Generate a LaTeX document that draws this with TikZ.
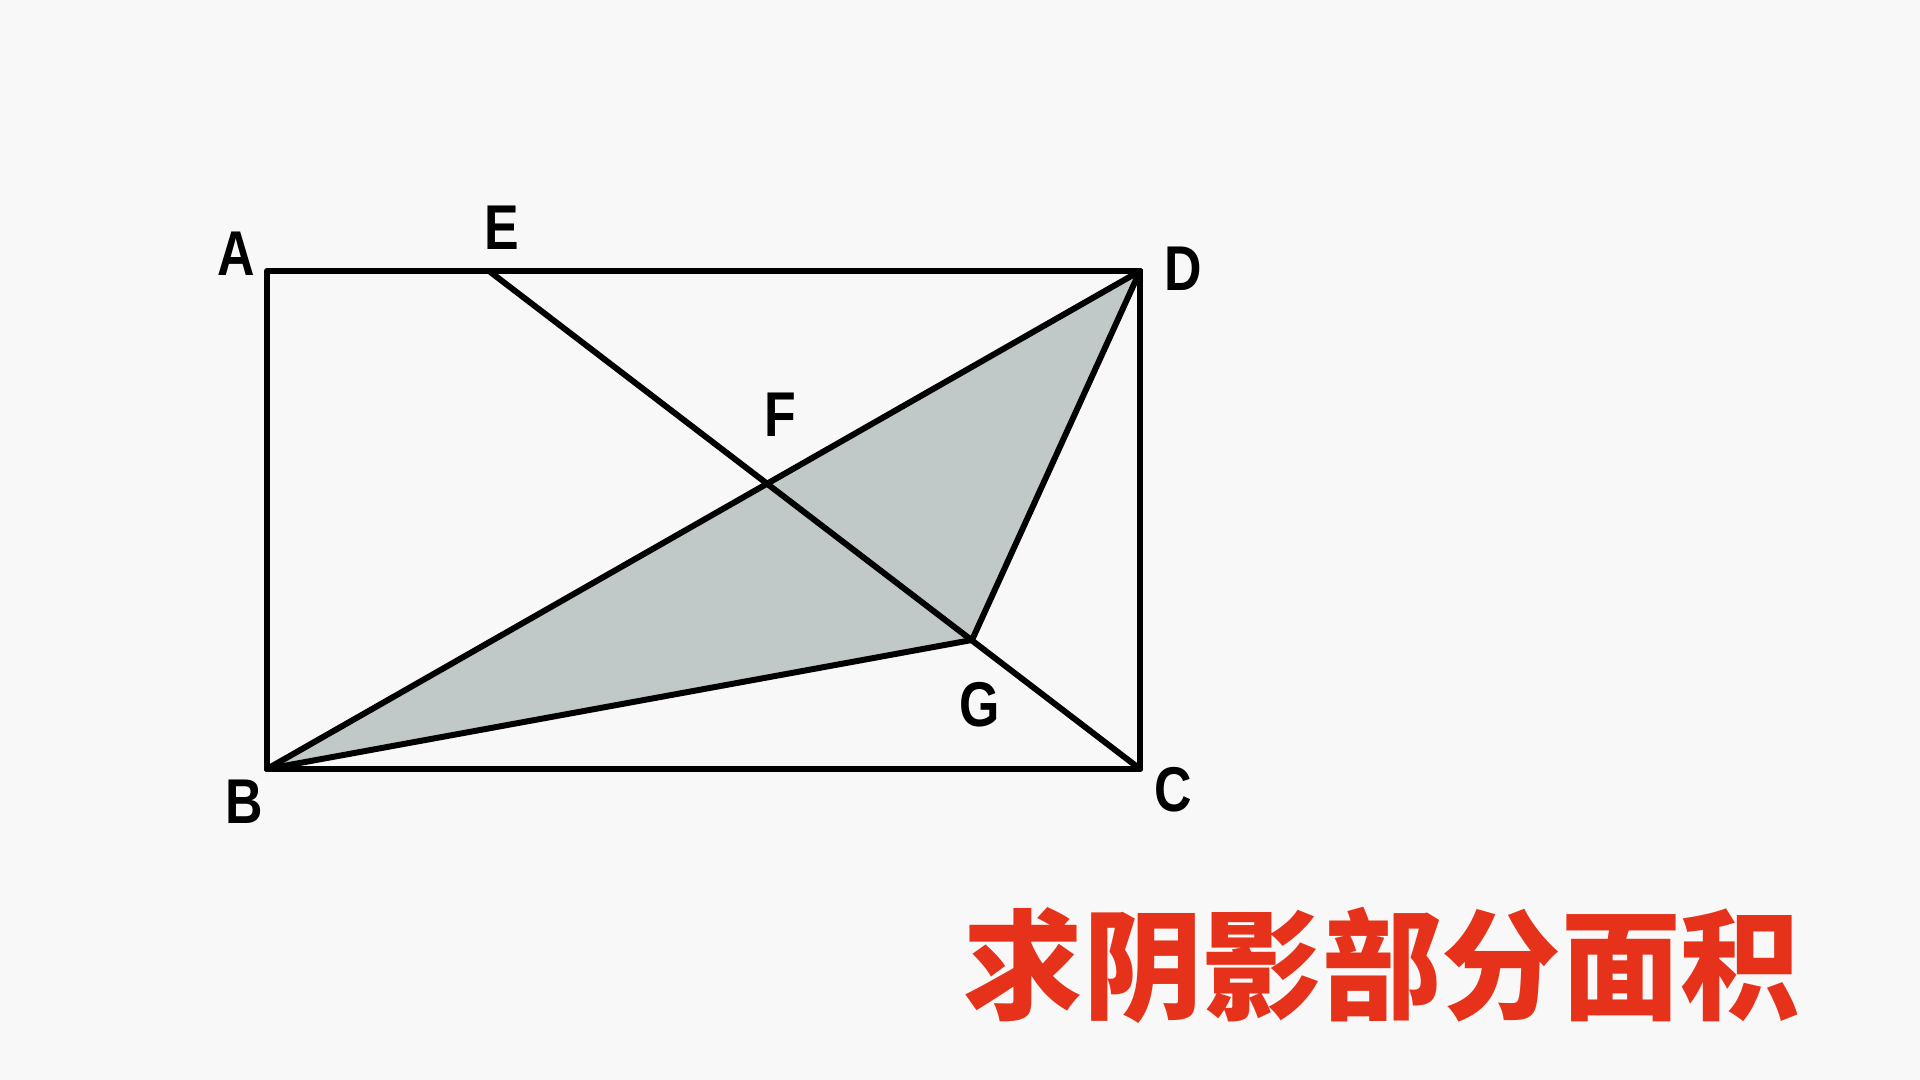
\documentclass[tikz,border=0pt]{standalone}
\usepackage{fontspec, tkz-euclide, tikz, xcolor}
\setmainfont{Liberation Sans}
\newfontfamily\cjk{Noto Sans CJK SC}
\definecolor{bgcol}{RGB}{247,248,247}
\definecolor{shadecol}{RGB}{192,201,199}
\definecolor{titlered}{RGB}{230,50,26}
\tikzset{ptlabel/.style = {font=\fontsize{18}{18}\selectfont\bfseries, xscale=0.82, inner sep=0pt}}

\begin{document}
\begin{tikzpicture}
    \fill[bgcol] (0,0) rectangle (19.2,10.8);
    \useasboundingbox (0,0) rectangle (19.2,10.8);
    \tkzDefPoints{2.67/8.09/A, 2.67/3.11/B, 11.40/3.11/C, 11.40/8.09/D, 4.89/8.09/E, 9.72/4.40/G}
    \tkzInterLL(B,D)(E,C) \tkzGetPoint{F}
    \tkzFillPolygon[fill=shadecol](B,G,D)
    \tkzDrawPolygon[line width=1.7pt, line join=round](A,B,C,D)
    \tkzDrawSegments[line width=1.7pt, line join=round](E,C B,D B,G G,D)
    \node[ptlabel] (labA) at (2.36,8.26) {A};
    \node[ptlabel] (labE) at (5.02,8.52) {E};
    \node[ptlabel] (labD) at (11.83,8.11) {D};
    \node[ptlabel] (labF) at (7.80,6.65) {F};
    \node[ptlabel] (labG) at (9.80,3.75) {G};
    \node[ptlabel] (labB) at (2.44,2.78) {B};
    \node[ptlabel] (labC) at (11.73,2.90) {C};
    \node[text=titlered, font=\cjk\fontsize{34}{34}\selectfont\bfseries] (title) at (13.82,1.15) {求阴影部分面积};
\end{tikzpicture}
\end{document}
